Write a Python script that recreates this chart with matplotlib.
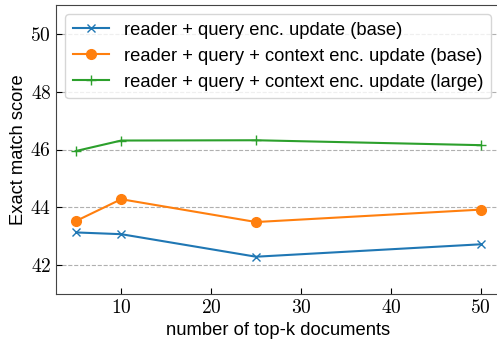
import matplotlib
matplotlib.use("Agg")
import matplotlib.pyplot as plt
from matplotlib.ticker import FuncFormatter, FixedLocator

plt.rcParams['font.family'] = ['Liberation Sans', 'DejaVu Sans']
plt.rcParams['mathtext.fontset'] = 'cm'

k = [5, 10, 25, 50]
base_query = [43.13, 43.07, 42.29, 42.72]
base_ctx = [43.53, 44.28, 43.49, 43.92]
large_ctx = [45.95, 46.31, 46.32, 46.15]
labels = ["reader + query enc. update (base)",
          "reader + query + context enc. update (base)",
          "reader + query + context enc. update (large)"]
xticks = [10, 20, 30, 40, 50]
yticks = [42, 44, 46, 48, 50]

fig = plt.figure(figsize=(4.97, 3.40), dpi=100)
ax = fig.add_axes([56/497, 46/340, 445/497, 289/340])

ax.plot(k, base_query, marker='x', color='#1f77b4', lw=1.5, ms=6, label=labels[0])
ax.plot(k, base_ctx, marker='o', color='#ff7f0e', lw=1.5, ms=7, label=labels[1])
ax.plot(k, large_ctx, marker='+', color='#2ca02c', lw=1.5, ms=7, label=labels[2])

ax.set_xlim(2.75, 52.25)
ax.set_ylim(41, 51)
ax.xaxis.set_major_locator(FixedLocator(xticks))
ax.yaxis.set_major_locator(FixedLocator(yticks))
fmt = FuncFormatter(lambda v, p: r'$%d$' % v)
ax.xaxis.set_major_formatter(fmt)
ax.yaxis.set_major_formatter(fmt)
ax.tick_params(direction='in', labelsize=14, length=4)
ax.grid(axis='y', linestyle='--', color='#b0b0b0', lw=0.8)
for s in ax.spines.values():
    s.set_color('#444444')
ax.set_xlabel('number of top-k documents', fontsize=13.2)
ax.set_ylabel('Exact match score', fontsize=13.2, labelpad=2)
ax.legend(loc='upper left', fontsize=13.2, handlelength=2)
fig.savefig('out.png', dpi=100)
